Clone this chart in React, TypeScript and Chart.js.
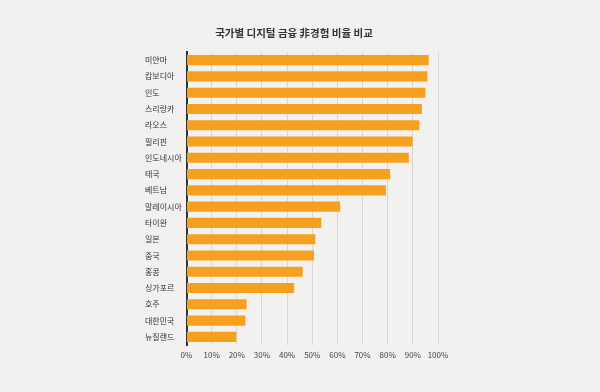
import React, { useEffect, useRef } from "react";
import { Chart, registerables } from "chart.js";

Chart.register(...registerables);

const TITLE = "국가별 디지털 금융 非경험 비율 비교";
const countries = [
  "미얀마", "캄보디아", "인도", "스리랑카", "라오스", "필리핀", "인도네시아", "태국", "베트남",
  "말레이시아", "타이완", "일본", "중국", "홍콩", "싱가포르", "호주", "대한민국", "뉴질랜드",
];
const values = [96.3, 95.8, 95.0, 93.6, 92.6, 89.9, 88.4, 81.0, 79.3, 61.1, 53.6, 51.2, 50.7, 46.2, 42.8, 23.9, 23.4, 19.8];
const xTicks = [0, 10, 20, 30, 40, 50, 60, 70, 80, 90, 100];

const FONT = "'Noto Sans CJK KR', 'Noto Sans', sans-serif";

export default function App() {
  const ref = useRef<HTMLCanvasElement>(null);
  useEffect(() => {
    document.body.style.margin = "0";
    document.body.style.background = "#f2f1ef";
    const titlePlugin = {
      id: "customTitle",
      afterDraw(chart: any) {
        const ctx = chart.ctx;
        ctx.save();
        ctx.font = `bold 10.5px ${FONT}`;
        ctx.fillStyle = "#333333";
        ctx.textAlign = "center";
        ctx.textBaseline = "middle";
        ctx.fillText(TITLE, 294, 33);
        ctx.restore();
      },
    };
    const chart = new Chart(ref.current!, {
      type: "bar",
      data: {
        labels: countries,
        datasets: [
          {
            data: values,
            backgroundColor: "#f7a01e",
            borderWidth: 0,
            barPercentage: 0.62,
            categoryPercentage: 1,
          },
        ],
      },
      options: {
        indexAxis: "y",
        animation: false,
        responsive: false,
        maintainAspectRatio: false,
        layout: { padding: { left: 145, right: 162, top: 52, bottom: 27 } },
        plugins: { legend: { display: false }, tooltip: { enabled: false }, title: { display: false } },
        scales: {
          x: {
            min: 0,
            max: 100,
            afterFit(scale: any) { scale.height = 20; },
            afterBuildTicks(scale: any) { scale.ticks = xTicks.map((v) => ({ value: v })); },
            grid: { color: "#d6d6d6", lineWidth: 1, drawTicks: false },
            border: { display: false },
            ticks: {
              padding: 5,
              color: "#444444",
              font: { size: 8, family: FONT },
              callback: (v: any) => `${v}%`,
              maxRotation: 0,
              autoSkip: false,
            },
          },
          y: {
            afterFit(scale: any) { scale.width = 41.5; },
            grid: { display: false, drawTicks: false },
            border: { display: true, color: "#333333", width: 2 },
            ticks: {
              crossAlign: "far",
              padding: 6,
              color: "#333333",
              font: { size: 8, family: FONT },
              autoSkip: false,
            },
          },
        },
      },
      plugins: [titlePlugin],
    } as any);
    return () => chart.destroy();
  }, []);
  return (
    <div style={{ width: 600, height: 392, background: "#f2f1ef" }}>
      <canvas ref={ref} width={600} height={392} style={{ display: "block" }} />
    </div>
  );
}
